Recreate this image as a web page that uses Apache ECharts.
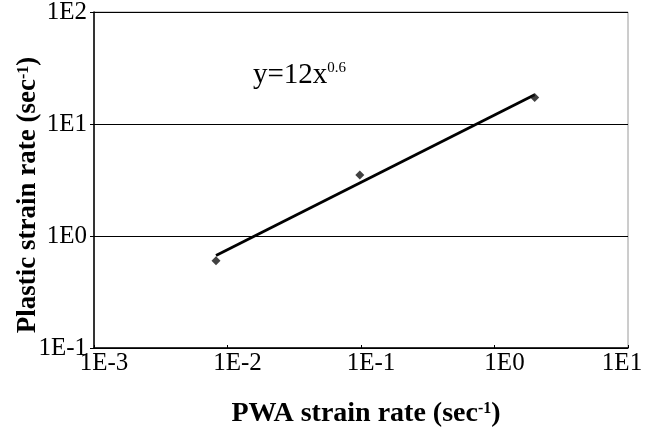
<!DOCTYPE html>
<html>
<head>
<meta charset="utf-8">
<script src="https://cdn.jsdelivr.net/npm/echarts@6/dist/echarts.min.js"></script>
<style>
html,body{margin:0;padding:0;background:#fff;overflow:hidden;}
#chart{width:646px;height:440px;}
</style>
</head>
<body>
<div id="chart"></div>
<script>
// Data
const pwaRate = [0.0082, 0.098, 2.0];
const plasticRate = [0.60, 3.5, 17.2];
const trendX = [0.0082, 2.0];
const trendY = [0.67, 18.2];
const xTickLabels = ['1E-3', '1E-2', '1E-1', '1E0', '1E1'];
const yTickLabels = ['1E-1', '1E0', '1E1', '1E2'];
const xMin = 0.001, xMax = 10, yMin = 0.1, yMax = 100;

const font = '"Liberation Serif","Times New Roman",serif';
const chart = echarts.init(document.getElementById('chart'));

function labelFor(list, base, v) {
  const i = Math.round(Math.log10(v) - Math.log10(base));
  return list[i] !== undefined ? list[i] : '';
}

chart.setOption({
  backgroundColor: '#ffffff',
  animation: false,
  grid: {
    left: 94, right: 18, top: 12, bottom: 92,
    containLabel: false, outerBoundsMode: 'none',
    show: true, borderColor: '#9a9a9a', borderWidth: 1, backgroundColor: 'transparent'
  },
  xAxis: {
    type: 'log', logBase: 10, min: xMin, max: xMax,
    axisLine: { show: true, lineStyle: { color: '#000', width: 1.5 } },
    axisTick: { show: true, inside: true, length: 3, lineStyle: { color: '#000' } },
    minorTick: { show: false },
    splitLine: { show: false },
    axisLabel: {
      margin: 3,
      formatter: v => {
        const t = labelFor(xTickLabels, xMin, v);
        return t === xTickLabels[xTickLabels.length - 1] ? '{e|' + t + '}' : '{p|' + t + '}';
      },
      rich: {
        p: { fontFamily: font, fontSize: 25, color: '#000', padding: [0, 0, 0, 20] },
        e: { fontFamily: font, fontSize: 25, color: '#000', padding: [0, 12, 0, 0] }
      }
    },
    name: '{a|PWA strain rate (sec}{s|-1}{a|)}',
    nameLocation: 'middle', nameGap: 52, nameMoveOverlap: false,
    nameTextStyle: {
      padding: [0, 0, 0, 10],
      rich: {
        a: { fontFamily: font, fontSize: 28, fontWeight: 'bold', color: '#000' },
        s: { fontFamily: font, fontSize: 16, fontWeight: 'bold', color: '#000', padding: [0, 0, 10, 0] }
      }
    }
  },
  yAxis: {
    type: 'log', logBase: 10, min: yMin, max: yMax,
    axisLine: { show: true, lineStyle: { color: '#000', width: 1.5 } },
    axisTick: { show: true, length: 4, lineStyle: { color: '#000' } },
    minorTick: { show: false },
    splitLine: { show: true, lineStyle: { color: '#000', width: 1.2 } },
    axisLabel: {
      fontFamily: font, fontSize: 25, color: '#000', margin: 7,
      formatter: v => labelFor(yTickLabels, yMin, v)
    },
    name: '{a|Plastic strain rate (sec}{s|-1}{a|)}',
    nameLocation: 'middle', nameGap: 52, nameRotate: 90, nameMoveOverlap: false,
    nameTextStyle: {
      padding: [0, 30, 0, 0],
      rich: {
        a: { fontFamily: font, fontSize: 27, fontWeight: 'bold', color: '#000' },
        s: { fontFamily: font, fontSize: 16, fontWeight: 'bold', color: '#000', padding: [0, 0, 10, 0] }
      }
    }
  },
  graphic: [{
    type: 'text', left: 253, top: 61, z: 10,
    style: {
      text: '{a|y=12x}{s|0.6}',
      rich: {
        a: { fontFamily: font, fontSize: 29, fill: '#000' },
        s: { fontFamily: font, fontSize: 15, fill: '#000', padding: [0, 0, 14, 0] }
      }
    }
  }],
  series: [
    {
      type: 'line',
      data: trendX.map((x, i) => [x, trendY[i]]),
      symbol: 'none',
      lineStyle: { color: '#000', width: 2.8 },
      z: 3
    },
    {
      type: 'scatter',
      data: pwaRate.map((x, i) => [x, plasticRate[i]]),
      symbol: 'diamond', symbolSize: 9,
      itemStyle: { color: '#111' },
      z: 4
    }
  ]
});
</script>
</body>
</html>
